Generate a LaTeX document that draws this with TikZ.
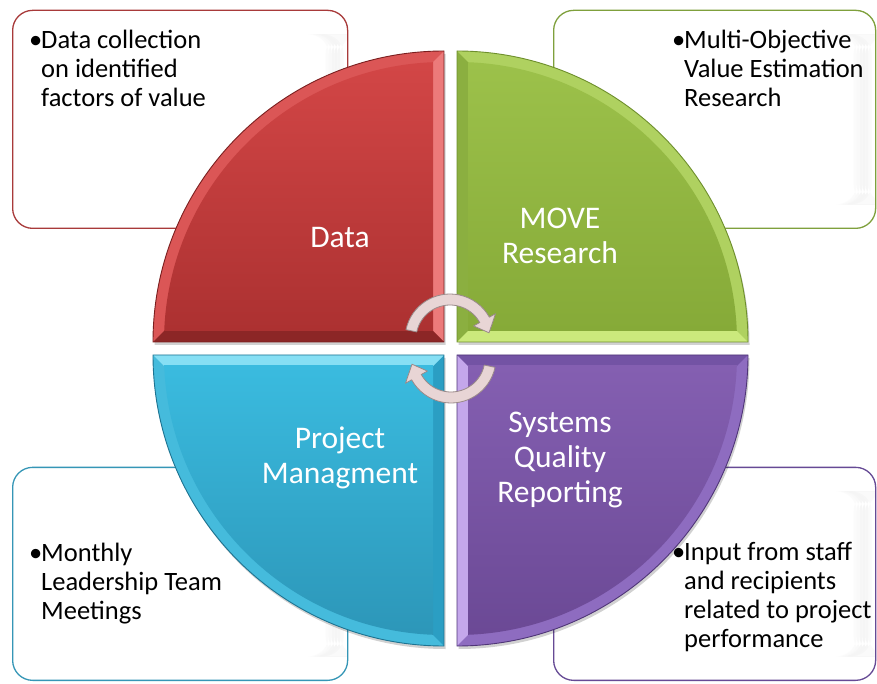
\documentclass[tikz,border=0pt]{standalone}
\usepackage{fontspec}
\setmainfont{Carlito}
\begin{document}
% palette: each wedge has a face gradient (fo = top, fi = bottom),
% three bevel bands and an outline
\definecolor{qafo}{HTML}{D44747}\definecolor{qafi}{HTML}{AC3131}
\definecolor{qaarc}{HTML}{DB5656}\definecolor{qavert}{HTML}{EC7A7A}
\definecolor{qahorz}{HTML}{8C2626}\definecolor{qaline}{HTML}{7A1F1F}
\definecolor{qbfo}{HTML}{9DC24B}\definecolor{qbfi}{HTML}{86AA38}
\definecolor{qbarc}{HTML}{AFD160}\definecolor{qbvert}{HTML}{8BAF40}
\definecolor{qbhorz}{HTML}{CBE97C}\definecolor{qbline}{HTML}{6E8F2C}
\definecolor{qcfo}{HTML}{3ABBDF}\definecolor{qcfi}{HTML}{2C95B7}
\definecolor{qcarc}{HTML}{45BBDC}\definecolor{qcvert}{HTML}{2B9EC3}
\definecolor{qchorz}{HTML}{86DFF4}\definecolor{qcline}{HTML}{1D7391}
\definecolor{qdfo}{HTML}{845FB1}\definecolor{qdfi}{HTML}{6A4894}
\definecolor{qdarc}{HTML}{8E6CC0}\definecolor{qdvert}{HTML}{C4A7EB}
\definecolor{qdhorz}{HTML}{7353A4}\definecolor{qdline}{HTML}{4F3577}
\definecolor{boxred}{HTML}{A83A3A}\definecolor{boxgreen}{HTML}{7FA03C}
\definecolor{boxcyan}{HTML}{3596B6}\definecolor{boxpurple}{HTML}{664A95}
\definecolor{arrowfill}{HTML}{E8D5D5}\definecolor{arrowline}{HTML}{9A8A8A}
% one bevelled quarter disc: corner at (#1,#2), mirrored by #3/#4, colours with prefix #5
\newcommand{\bevelwedge}[5]{%
  \begin{scope}[shift={(#1,#2)}]
    \begin{scope}[shift={(1.5,-3)}, xscale=#3, yscale=#4]
      \fill[black, opacity=0.18] (0,0) -- (291,0) arc[start angle=0, end angle=90, radius=291] -- cycle;
    \end{scope}
    \begin{scope}[xscale=#3, yscale=#4]
      \begin{scope}
        \clip (0,0) -- (291,0) arc[start angle=0, end angle=90, radius=291] -- cycle;
        \fill[#5arc] (0,0) rectangle (300,300);
        \fill[#5vert] (0,0) -- (0,291) -- (11,279.8) -- (11,11) -- cycle;
        \fill[#5horz] (0,0) -- (291,0) -- (279.8,11) -- (11,11) -- cycle;
        \clip (11,11) rectangle (300,300);
        \clip (0,0) circle[radius=280];
        \shade[top color=#5fo, bottom color=#5fi] (11,11) rectangle (291,291);
      \end{scope}
      \draw[#5line, line width=0.9pt] (0,0) -- (291,0) arc[start angle=0, end angle=90, radius=291] -- cycle;
    \end{scope}
  \end{scope}}
% centred and bulleted text rows
\newcommand{\midrow}[1]{\hbox to 0pt{\hss#1\hss}}
\newcommand{\bulrow}[1]{\hbox{\makebox[12pt][l]{\textbullet}#1}}
\newcommand{\nextrow}[1]{\hbox{\kern12pt#1}}
\begin{tikzpicture}[x=1pt, y=1pt,
  infobox/.style={rounded corners=20pt, line width=1.3pt, fill=white, anchor=south west,
    inner sep=0pt,
    path picture={
      \foreach \off/\tone in {-22/1.5, -19/2.5, -16/3.5, -13/4, -10/3.5, -7/2}
        \fill[black!\tone]
          ([xshift=\off pt, yshift=24pt]path picture bounding box.south east) rectangle
          ([xshift=\off pt+3pt, yshift=-24pt]path picture bounding box.north east);}},
  lab/.style={text=white, font=\fontsize{31.5}{35}\selectfont, inner sep=0pt, anchor=base},
  note/.style={text=black, font=\fontsize{26.5}{29}\selectfont, inner sep=0pt, anchor=base west},
  cyclearrow/.style={fill=arrowfill, draw=arrowline, line width=0.8pt, line join=round}]
\useasboundingbox (0,0) rectangle (877,683);
\fill[white] (0,0) rectangle (877,683);

% side panels
\node[infobox, draw=boxred, minimum width=335pt, minimum height=218pt] (boxTL) at (12,454) {};
\node[infobox, draw=boxgreen, minimum width=322pt, minimum height=218pt] (boxTR) at (553,454) {};
\node[infobox, draw=boxcyan, minimum width=335pt, minimum height=213pt] (boxBL) at (12,2) {};
\node[infobox, draw=boxpurple, minimum width=322pt, minimum height=213pt] (boxBR) at (553,2) {};

% the four quarters of the disc
\bevelwedge{444}{341}{-1}{1}{qa}
\bevelwedge{457}{341}{1}{1}{qb}
\bevelwedge{444}{328}{-1}{-1}{qc}
\bevelwedge{457}{328}{1}{-1}{qd}

% circular arrows in the middle
\begin{scope}[shift={(450,344)}]
  \filldraw[cyclearrow] (168:45) arc[start angle=168, end angle=29, radius=45]
    -- (29:52) -- (9:39.5) -- (29:27) -- (29:34)
    arc[start angle=29, end angle=168, radius=34] -- cycle;
\end{scope}
\begin{scope}[shift={(451,325)}, rotate=180]
  \filldraw[cyclearrow] (168:45) arc[start angle=168, end angle=29, radius=45]
    -- (29:52) -- (9:39.5) -- (29:27) -- (29:34)
    arc[start angle=29, end angle=168, radius=34] -- cycle;
\end{scope}

% quarter titles
\node[lab] (tData) at (340,435) {\vtop{\midrow{Data}}};
\node[lab] (tMove) at (560,454) {\vtop{\midrow{MOVE}\midrow{Research}}};
\node[lab] (tProj) at (340,235) {\vtop{\midrow{Project}\midrow{Managment}}};
\node[lab] (tSys) at (560,251) {\vtop{\midrow{Systems}\midrow{Quality}\midrow{Reporting}}};

% panel texts
\node[note] (nTL) at (29,634) {\vtop{\bulrow{Data collection}\nextrow{on identified}\nextrow{factors of value}}};
\node[note] (nTR) at (672,634) {\vtop{\bulrow{Multi-Objective}\nextrow{Value Estimation}\nextrow{Research}}};
\node[note] (nBL) at (29,122) {\vtop{\bulrow{Monthly}\nextrow{Leadership Team}\nextrow{Meetings}}};
\node[note] (nBR) at (672,123) {\vtop{\bulrow{Input from staff}\nextrow{and recipients}\nextrow{related to project}\nextrow{performance}}};
\end{tikzpicture}
\end{document}
